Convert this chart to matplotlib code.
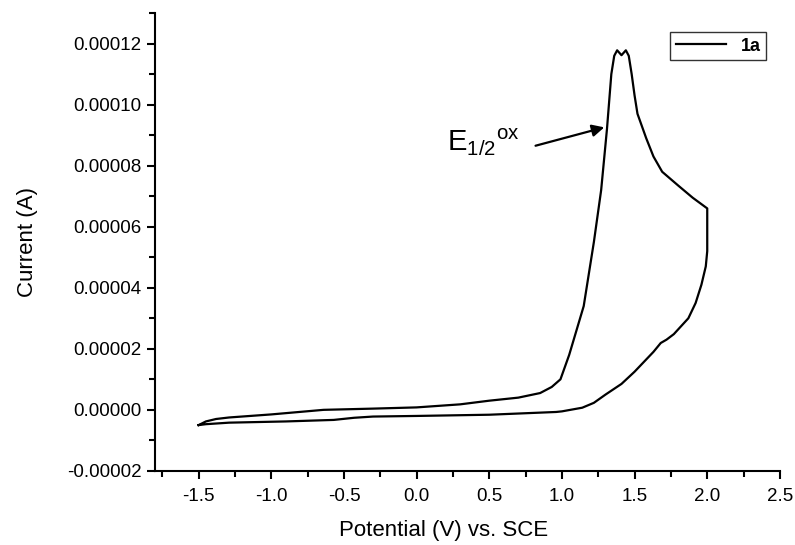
import numpy as np
import matplotlib
matplotlib.use("Agg")
import matplotlib.pyplot as plt
from matplotlib.ticker import MultipleLocator, FormatStrFormatter

plt.rcParams['font.family'] = ['Liberation Sans', 'DejaVu Sans']
plt.rcParams['mathtext.default'] = 'regular'
plt.rcParams['axes.unicode_minus'] = False

# cyclic voltammogram of 1a (current in units of 1e-5 A)
potential_fwd = [-1.50, -1.45, -1.38, -1.29, -1.00, -0.64, -0.30, 0.00, 0.30, 0.50,
                 0.70, 0.85, 0.93, 0.99, 1.05, 1.10, 1.15, 1.22, 1.27, 1.31,
                 1.34, 1.36, 1.38, 1.41, 1.44, 1.46, 1.48, 1.50, 1.52, 1.55,
                 1.58, 1.63, 1.69, 1.80, 1.90, 2.00]
current_fwd = [-0.50, -0.38, -0.30, -0.25, -0.15, 0.00, 0.04, 0.08, 0.18, 0.30,
               0.40, 0.55, 0.75, 1.00, 1.80, 2.60, 3.40, 5.50, 7.20, 9.20,
               11.00, 11.60, 11.78, 11.62, 11.78, 11.60, 11.00, 10.30, 9.70, 9.30,
               8.90, 8.30, 7.80, 7.35, 6.95, 6.60]

potential_rev = [2.00, 2.00, 1.99, 1.96, 1.92, 1.87, 1.77, 1.72, 1.68, 1.63,
                 1.57, 1.50, 1.41, 1.30, 1.22, 1.14, 1.00, 0.96, 0.50, 0.00,
                 -0.30, -0.43, -0.57, -0.90, -1.29, -1.45, -1.50]
current_rev = [6.60, 5.20, 4.70, 4.10, 3.50, 3.00, 2.48, 2.30, 2.19, 1.90,
               1.60, 1.25, 0.85, 0.50, 0.23, 0.07, -0.05, -0.07, -0.16, -0.20,
               -0.22, -0.26, -0.33, -0.38, -0.42, -0.47, -0.50]

potential = np.array(potential_fwd + potential_rev)
current = np.array(current_fwd + current_rev) * 1e-5

fig = plt.figure(figsize=(7.95, 5.45), dpi=100)
ax = fig.add_axes([0.195, 0.136, 0.786, 0.840])

ax.plot(potential, current, color='black', lw=1.6, label='1a')

ax.set_xlim(-1.8, 2.5)
ax.set_ylim(-0.00002, 0.00013)
ax.xaxis.set_major_locator(MultipleLocator(0.5))
ax.xaxis.set_minor_locator(MultipleLocator(0.25))
ax.yaxis.set_major_locator(MultipleLocator(0.00002))
ax.yaxis.set_minor_locator(MultipleLocator(0.00001))
ax.yaxis.set_major_formatter(FormatStrFormatter('%.5f'))
ax.xaxis.set_major_formatter(FormatStrFormatter('%.1f'))

for s in ['top', 'right']:
    ax.spines[s].set_visible(False)
for s in ['left', 'bottom']:
    ax.spines[s].set_linewidth(1.5)
ax.tick_params(which='major', direction='out', length=6, width=1.5, labelsize=13.5, colors='black')
ax.tick_params(axis='x', which='major', pad=6)
ax.tick_params(which='minor', direction='out', length=4, width=1.5)

ax.set_xlabel('Potential (V) vs. SCE', fontsize=16)
ax.set_ylabel('Current (A)', fontsize=16)
ax.xaxis.set_label_coords(0.461, -0.108)
ax.yaxis.set_label_coords(-0.187, 0.5)

ax.annotate('', xy=(1.31, 9.28e-5), xytext=(0.80, 8.63e-5),
            arrowprops=dict(arrowstyle='-|>', color='black', lw=1.6, mutation_scale=18))
ax.text(0.71, 8.77e-5, r'E$_{1/2}$$^{ox}$', fontsize=21, ha='right', va='center')

leg = ax.legend(loc='upper right', fontsize=13, handlelength=2.8, fancybox=False,
                borderpad=0.3, borderaxespad=0, bbox_to_anchor=(0.978, 0.958))
leg.get_frame().set_edgecolor('black')
leg.get_frame().set_linewidth(1.0)
for t in leg.get_texts():
    t.set_fontweight('bold')

fig.savefig('out.png', dpi=100)
